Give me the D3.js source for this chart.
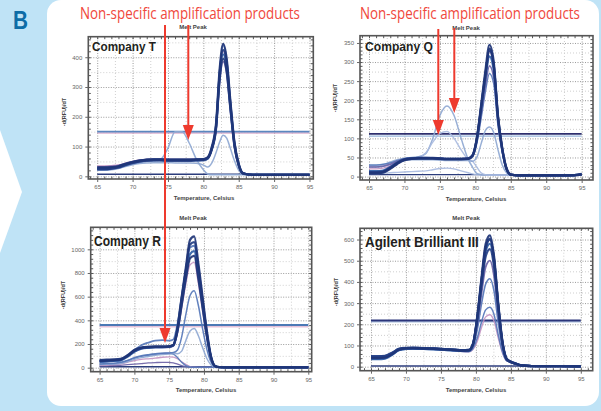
<!DOCTYPE html>
<html><head><meta charset="utf-8">
<script src="https://cdn.jsdelivr.net/npm/d3@7"></script>
<style>html,body{margin:0;padding:0;background:#fff;}svg{display:block}</style>
</head><body><svg id="c" width="601" height="411"></svg>
<script>
// ---------- DATA ----------
const xTicks = [65,70,75,80,85,90,95];
const yTicksT = [0,100,200,300,400];
const yTicksQ = [0,50,100,150,200,250,300,350];
const yTicksR = [0,200,400,600,800,1000];
const yTicksA = [0,100,200,300,400,500,600];

// Company T
const tempT = [65,66,67,68,69,70,71,72,73,74,75,76,77,78,79,80,80.6,81.2,81.8,82.3,82.8,83.3,83.8,84.4,85,85.6,86.5,88,90,92,95];
const T_m1 = [30,30,31,34,42,48,53,56,57,57,56,56,56,56,57,58,64,100,180,360,445,395,260,115,42,11,6,5,5,5,5];
const T_m2 = [26,26,28,32,40,47,52,55,56,56,55,55,55,55,56,57,62,95,170,345,425,380,250,110,40,10,6,5,5,5,5];
const T_m3 = [28,28,29,33,41,48,52,54,55,55,54,54,54,54,55,56,60,92,165,335,410,365,240,105,38,10,6,5,5,5,5];
const T_m4 = [24,24,26,30,38,45,50,53,54,54,53,53,53,53,54,55,60,90,160,325,395,352,232,100,36,9,6,5,5,5,5];
const T_m5 = [32,32,33,36,43,49,54,57,58,58,57,57,57,57,58,58,63,92,160,318,385,345,228,98,35,9,6,5,5,5,5];
const T_m6 = [22,22,24,28,36,43,48,51,52,52,51,51,51,51,52,53,58,96,175,352,440,390,255,112,40,10,6,5,5,5,5];
const T_m7 = [35,35,36,38,44,50,54,56,56,55,54,53,53,53,54,55,60,93,168,340,420,375,248,108,38,10,6,5,5,5,5];
const T_ns1 = [25,25,27,31,37,43,47,50,52,58,95,150,150,112,58,22,8,5,5,5,5,5,5,5,5,5,5,5,5,5,5];
const T_low = [20,20,22,26,33,39,43,45,46,46,46,45,45,45,44,38,31,45,80,115,138,128,95,52,20,7,5,5,5,5,5];
const T_thr = [150,145];
const T_base = 7;

// Company Q
const tempQ = [65,66,67,68,69,70,71,72,73,74,75,76,77,78,79,79.6,80.2,80.8,81.4,82,82.6,83.2,83.8,84.4,85,86,88,90,92,94,95];
const Q_m1 = [10,10,12,22,35,44,47,48,48,48,47,46,46,46,47,55,100,185,275,345,300,160,75,22,5,3,3,3,3,4,7];
const Q_m2 = [12,12,14,24,36,45,48,49,49,49,48,47,47,47,48,56,98,180,265,330,290,155,72,20,5,3,3,3,3,4,6];
const Q_m3 = [14,14,16,25,37,45,48,48,48,48,47,46,46,46,47,54,95,172,255,315,278,150,70,20,5,3,3,3,3,4,6];
const Q_m4 = [8,8,10,20,33,43,46,47,47,47,46,45,45,45,46,54,97,178,262,335,292,155,72,21,5,3,3,3,3,3,5];
const Q_m5 = [25,25,27,32,40,46,48,49,49,48,47,46,46,46,47,53,90,160,235,290,258,140,65,18,5,3,3,3,3,3,5];
const Q_m6 = [30,30,32,36,42,47,49,50,50,49,48,47,47,47,47,52,85,150,220,270,242,132,62,17,4,3,3,3,3,3,4];
const Q_m7 = [20,20,22,28,38,45,48,49,49,49,48,47,47,47,48,55,97,178,262,328,288,152,71,20,5,3,3,3,3,4,6];
const Q_ns1 = [30,30,32,38,44,48,50,52,60,100,160,185,160,100,45,25,8,5,4,4,4,4,4,4,4,3,3,3,3,3,4];
const Q_ns2 = [28,28,30,36,42,46,48,50,62,90,113,118,100,70,45,40,25,10,5,4,4,4,4,4,4,3,3,3,3,3,4];
const Q_low = [25,25,27,32,38,42,44,44,44,44,43,42,42,42,42,40,50,85,120,130,115,70,30,10,4,3,3,3,3,3,4];
const Q_flat = [8,8,9,10,11,12,13,14,15,18,21,22,20,15,10,7,5,4,4,4,4,4,4,4,4,3,3,3,3,3,4];
const Q_thr = [112,106];
const Q_base = 5;

// Company R
const tempR = [65,66,67,68,69,70,71,72,73,74,75,75.6,76.2,76.8,77.4,78,78.6,79.2,79.8,80.4,81,81.6,82.2,83,85,88,91,95];
const R_m1 = [55,60,62,68,100,145,168,175,178,178,180,192,340,600,850,1080,1110,880,600,320,100,14,4,3,3,3,3,3];
const R_m2 = [60,62,65,70,98,140,165,172,175,175,178,190,330,580,820,1040,1060,840,570,300,95,13,4,3,3,3,3,3];
const R_m3 = [50,55,58,62,92,135,160,168,172,172,175,186,315,545,770,960,985,780,530,280,88,12,4,3,3,3,3,3];
const R_m4 = [65,68,70,75,105,150,170,176,178,178,180,190,310,530,750,925,945,750,510,270,85,12,4,3,3,3,3,3];
const R_m5 = [45,50,55,62,100,150,190,212,228,232,228,238,370,600,830,1015,1030,820,560,295,92,13,4,3,3,3,3,3];
const R_m6 = [55,58,60,65,95,138,160,168,170,170,172,182,290,500,710,870,890,710,480,255,80,11,4,3,3,3,3,3];
const R_low650 = [30,35,38,45,60,85,100,110,118,122,125,128,150,260,450,610,650,525,330,160,50,8,3,3,3,3,3,3];
const R_low330 = [25,28,30,36,50,70,85,95,105,112,115,120,118,140,230,310,330,270,170,80,25,5,3,3,3,3,3,3];
const R_ns2 = [30,30,32,40,60,80,95,105,112,120,122,115,85,45,18,6,3,3,3,3,3,3,3,3,3,3,3,3];
const R_ns3 = [20,22,25,30,45,60,70,75,80,88,92,90,75,50,28,10,4,3,3,3,3,3,3,3,3,3,3,3];
const R_flat = [15,16,18,20,25,30,35,40,43,45,45,40,30,18,8,4,3,3,3,3,3,3,3,3,3,3,3,3];
const R_thr = [360,345];
const R_base = 8;

// Agilent Brilliant III
const tempA = [65,66,67,68,69,70,71,72,73,74,75,76,77,78,79,79.6,80.2,80.8,81.4,82,82.6,83.2,83.8,84.4,85,85.6,86.5,88,90,92,95];
const A_m1 = [40,40,42,58,80,86,87,86,85,84,82,80,78,76,77,110,240,420,580,620,520,300,120,38,24,16,6,3,2,2,1];
const A_m2 = [45,45,47,62,82,88,88,87,86,85,83,81,79,77,78,108,232,405,560,600,505,290,115,36,22,15,6,3,2,2,1];
const A_m3 = [35,35,38,55,78,84,85,84,83,82,80,78,76,74,75,105,225,395,545,580,490,282,112,35,22,15,6,3,2,2,1];
const A_m4 = [48,48,50,64,84,88,89,88,87,86,84,82,80,78,79,106,220,380,520,555,470,270,108,34,21,14,6,3,2,2,1];
const A_m5 = [42,42,44,60,80,85,86,85,84,83,81,79,77,75,76,100,200,345,470,500,425,245,100,32,20,14,5,3,2,2,1];
const A_m6 = [38,38,40,56,77,83,84,83,82,81,79,77,75,72,72,95,175,295,390,415,355,205,85,30,25,18,7,3,2,2,1];
const A_m7 = [44,44,46,60,80,85,85,84,83,82,80,78,76,73,72,88,135,210,268,280,245,150,70,28,22,15,6,3,2,2,1];
const A_m8 = [40,40,42,58,78,84,85,84,83,82,80,78,75,72,70,82,120,185,235,245,215,135,65,28,22,15,6,3,2,2,1];
const A_m9 = [50,50,52,66,85,89,90,89,88,87,85,83,81,79,80,112,238,410,565,605,510,292,116,36,22,15,6,3,2,2,1];
const A_thr = [218,211];
const A_base = 3;

// ---------- STYLE ----------
const NAVY='#1f3577', NAVY2='#243f85', BLUE='#2f5ea6', MID='#5677b8', LIGHT='#8fa8d2', PALE='#a9bbe0', PURP='#6c63a6', PINK='#c495c2';

const panels = [
 {label:'Company T', lx:92, ly:51, lw:64, fs:13, fx:[88.3,313.3], fy:[36.7,179], xd:[63.74,95.54], yd:[-9,469],
  yTicks:yTicksT, temps:tempT, title:[193,29], xlab:[204,200], ylab:[66,112],
  series:[[T_ns1,LIGHT,1.5],[T_low,LIGHT,1.5],[T_m7,PINK,1.3],[T_m5,PURP,1.8],[T_m3,BLUE,2.2],[T_m6,MID,1.8],[T_m4,NAVY,2.2],[T_m2,NAVY2,2.2],[T_m1,NAVY,2.2]],
  thr:[[T_thr[0],'#5b87bf',2],[T_thr[1],'#d8a7c9',1]], base:T_base},
 {label:'Company Q', lx:365, ly:51, lw:68, fs:13, fx:[360,593], fy:[35.7,180], xd:[63.73,96.6], yd:[-9,369],
  yTicks:yTicksQ, temps:tempQ, title:[466,29.5], xlab:[476,200.5], ylab:[337,98],
  series:[[Q_flat,PALE,1.4],[Q_ns1,LIGHT,1.5],[Q_ns2,PALE,1.4],[Q_low,LIGHT,1.5],[Q_m6,MID,1.4],[Q_m7,PINK,1.3],[Q_m5,PURP,1.6],[Q_m3,BLUE,2.2],[Q_m2,NAVY2,2.2],[Q_m4,NAVY,2.2],[Q_m1,NAVY,2.2]],
  thr:[[Q_thr[1],'#9ab7dc',1.2],[Q_thr[0],'#2e2f6e',1.8]], base:Q_base},
 {label:'Company R', lx:94, ly:245.5, lw:67, fs:14, fx:[90.7,311.7], fy:[227.3,371.7], xd:[63.72,95.49], yd:[-34,1186],
  yTicks:yTicksR, temps:tempR, title:[193,219.5], xlab:[206,392], ylab:[65,295],
  series:[[R_flat,PURP,1.3],[R_ns3,PINK,1.3],[R_ns2,MID,1.4],[R_low330,LIGHT,1.5],[R_low650,MID,1.5],[R_m6,PINK,1.4],[R_m5,MID,1.8],[R_m3,BLUE,2.2],[R_m4,NAVY,2.2],[R_m2,NAVY2,2.2],[R_m1,NAVY,2.2]],
  thr:[[R_thr[0],'#4b79b5',2],[R_thr[1],'#d6a3c6',1]], base:R_base},
 {label:'Agilent Brilliant III', lx:365, ly:247, lw:114, fs:14, fx:[360,592.7], fy:[228.3,370.7], xd:[63.43,96.7], yd:[-19,653],
  yTicks:yTicksA, temps:tempA, title:[466,219.5], xlab:[476,392], ylab:[338,292],
  series:[[A_m8,PINK,1.4],[A_m7,MID,1.5],[A_m6,MID,1.6],[A_m5,PURP,1.8],[A_m3,BLUE,2.2],[A_m4,NAVY2,2.2],[A_m2,NAVY,2.2],[A_m9,NAVY2,2],[A_m1,NAVY,2.2]],
  thr:[[A_thr[1],'#a9c0e0',1.2],[A_thr[0],'#2b357a',1.8]], base:A_base}
];

// ---------- DRAW ----------
const svg = d3.select('#c');
// text squeezed horizontally to a given width via a scale transform
function fitText(parent, str, x, y, width, attrs){
  const t = parent.append('text').text(str).attr('x',0).attr('y',0);
  Object.entries(attrs).forEach(([k,v])=>t.attr(k,v));
  const nat = t.node().getComputedTextLength() || width;
  t.attr('transform',`translate(${x},${y}) scale(${width/nat},1)`);
  return t;
}

svg.append('rect').attr('width',601).attr('height',411).attr('fill','#bfe3f6');
svg.append('polygon').attr('points','0,130 22,192 0,253').attr('fill','#fff');
svg.append('rect').attr('x',47).attr('y',0).attr('width',552).attr('height',406).attr('rx',14).attr('fill','#fff');
fitText(svg,'B',13,29,15,{'font-family':'Liberation Sans, Arial, sans-serif','font-weight':'bold','font-size':26,fill:'#0d6ca6'});

const FONT = 'Liberation Sans, Arial, sans-serif';
panels.forEach((p,i)=>{
  const g = svg.append('g');
  const x = d3.scaleLinear().domain(p.xd).range(p.fx);
  const y = d3.scaleLinear().domain(p.yd).range([p.fy[1],p.fy[0]]);
  const w = p.fx[1]-p.fx[0], h = p.fy[1]-p.fy[0];
  const yStep = p.yTicks[1]-p.yTicks[0];
  const minorX = xTicks.slice(0,-1).map(t=>t+2.5);
  const minorY = p.yTicks.map(t=>t+yStep/2).filter(t=>t<p.yd[1]);
  g.append('g').attr('transform',`translate(0,${p.fy[1]})`)
    .call(d3.axisBottom(x).tickValues(minorX).tickSize(-h).tickFormat(''))
    .call(a=>{a.select('.domain').remove();a.selectAll('line').attr('stroke','#cfcfcf').attr('stroke-dasharray','1,2');});
  g.append('g').attr('transform',`translate(${p.fx[0]},0)`)
    .call(d3.axisLeft(y).tickValues(minorY).tickSize(-w).tickFormat(''))
    .call(a=>{a.select('.domain').remove();a.selectAll('line').attr('stroke','#cfcfcf').attr('stroke-dasharray','1,2');});
  g.append('g').attr('transform',`translate(0,${p.fy[1]})`)
    .call(d3.axisBottom(x).tickValues(xTicks).tickSize(-h).tickFormat(''))
    .call(a=>{a.select('.domain').remove();a.selectAll('line').attr('stroke','#9a9a9a').attr('stroke-dasharray','1,1.5');});
  g.append('g').attr('transform',`translate(${p.fx[0]},0)`)
    .call(d3.axisLeft(y).tickValues(p.yTicks).tickSize(-w).tickFormat(''))
    .call(a=>{a.select('.domain').remove();a.selectAll('line').attr('stroke','#9a9a9a').attr('stroke-dasharray','1,1.5');});

  const cid = 'clip'+i;
  svg.append('clipPath').attr('id',cid).append('rect').attr('x',p.fx[0]).attr('y',p.fy[0]).attr('width',w).attr('height',h);
  const pg = g.append('g').attr('clip-path',`url(#${cid})`);

  pg.append('line').attr('x1',x(65)).attr('x2',x(95)).attr('y1',y(p.base)).attr('y2',y(p.base))
    .attr('stroke','#2c3d7c').attr('stroke-width',1.4);
  p.thr.forEach(t=>{
    pg.append('line').attr('x1',x(65)).attr('x2',x(95)).attr('y1',y(t[0])).attr('y2',y(t[0]))
      .attr('stroke',t[1]).attr('stroke-width',t[2]);
  });
  const line = d3.line().x((d,j)=>x(p.temps[j])).y(d=>y(d)).curve(d3.curveMonotoneX);
  p.series.forEach(s=>{
    pg.append('path').attr('d',line(s[0])).attr('fill','none').attr('stroke',s[1])
      .attr('stroke-width',s[2]).attr('stroke-opacity',0.92).attr('stroke-linejoin','round');
  });

  const fine = [];
  for (let t=64; t<=96; t+=1) if (t>=p.xd[0] && t<=p.xd[1]) fine.push(t);
  g.append('g').attr('transform',`translate(0,${p.fy[1]})`)
    .call(d3.axisTop(x).tickValues(fine).tickSize(2.5).tickFormat(''))
    .call(a=>{a.select('.domain').remove();a.selectAll('line').attr('stroke','#555');});
  g.append('g').attr('transform',`translate(0,${p.fy[0]})`)
    .call(d3.axisBottom(x).tickValues(fine).tickSize(2.5).tickFormat(''))
    .call(a=>{a.select('.domain').remove();a.selectAll('line').attr('stroke','#555');});
  const fineY = [];
  for (let v=p.yd[0]-yStep; v<=p.yd[1]; v+=yStep/5) { const r=Math.round(v/(yStep/5))*(yStep/5); if(r>=p.yd[0]&&r<=p.yd[1]) fineY.push(r); }
  g.append('g').attr('transform',`translate(${p.fx[0]},0)`)
    .call(d3.axisRight(y).tickValues(fineY).tickSize(2.5).tickFormat(''))
    .call(a=>{a.select('.domain').remove();a.selectAll('line').attr('stroke','#555');});
  g.append('g').attr('transform',`translate(${p.fx[1]},0)`)
    .call(d3.axisLeft(y).tickValues(fineY).tickSize(2.5).tickFormat(''))
    .call(a=>{a.select('.domain').remove();a.selectAll('line').attr('stroke','#555');});
  g.append('rect').attr('x',p.fx[0]).attr('y',p.fy[0]).attr('width',w).attr('height',h)
    .attr('fill','none').attr('stroke','#555').attr('stroke-width',1.6);

  g.append('g').attr('transform',`translate(0,${p.fy[1]})`)
    .call(d3.axisBottom(x).tickValues(xTicks).tickSize(3).tickPadding(3).tickFormat(d3.format('d')))
    .call(a=>{a.select('.domain').remove();a.selectAll('line').attr('stroke','#666');
      a.selectAll('text').attr('font-size',6).attr('font-family',FONT).attr('fill','#666');});
  g.append('g').attr('transform',`translate(${p.fx[0]},0)`)
    .call(d3.axisLeft(y).tickValues(p.yTicks).tickSize(3).tickPadding(3).tickFormat(d3.format('d')))
    .call(a=>{a.select('.domain').remove();a.selectAll('line').attr('stroke','#666');
      a.selectAll('text').attr('font-size',6).attr('font-family',FONT).attr('fill','#666');});

  g.append('text').text('Melt Peak').attr('x',p.title[0]).attr('y',p.title[1]).attr('text-anchor','middle')
    .attr('font-size',6).attr('font-weight','bold').attr('font-family',FONT).attr('fill','#444');
  g.append('text').text('Temperature, Celsius').attr('x',p.xlab[0]).attr('y',p.xlab[1]).attr('text-anchor','middle')
    .attr('font-size',6).attr('font-weight','bold').attr('font-family',FONT).attr('fill','#444');
  g.append('text').text('-d(RFU)/dT').attr('transform',`translate(${p.ylab[0]},${p.ylab[1]}) rotate(-90)`).attr('text-anchor','middle')
    .attr('font-size',5.5).attr('font-weight','bold').attr('font-family',FONT).attr('fill','#444');

  fitText(g, p.label, p.lx, p.ly, p.lw, {'font-size':p.fs,'font-weight':'bold','font-family':FONT,fill:'#231f20'});
});

// ---------- ANNOTATIONS ----------
const RED = '#ee3a2e';
const notes = [[80,18.5,220],[360,18.5,220]];
notes.forEach(n=>{
  fitText(svg,'Non-specific amplification products',n[0],n[1],n[2],
    {'font-size':15.5,'font-family':"'Liberation Sans Narrow', 'Open Sans', Arial, sans-serif",fill:'#f0483c'});
});
const arrows = [[188.3,25,140],[165,25,343],[438.3,29,135],[454.3,28,113]];
arrows.forEach(a=>{
  svg.append('line').attr('x1',a[0]).attr('x2',a[0]).attr('y1',a[1]).attr('y2',a[2]-12)
    .attr('stroke',RED).attr('stroke-width',2);
  svg.append('polygon').attr('points',`${a[0]-5.5},${a[2]-15} ${a[0]+5.5},${a[2]-15} ${a[0]},${a[2]}`).attr('fill',RED);
});
</script></body></html>
